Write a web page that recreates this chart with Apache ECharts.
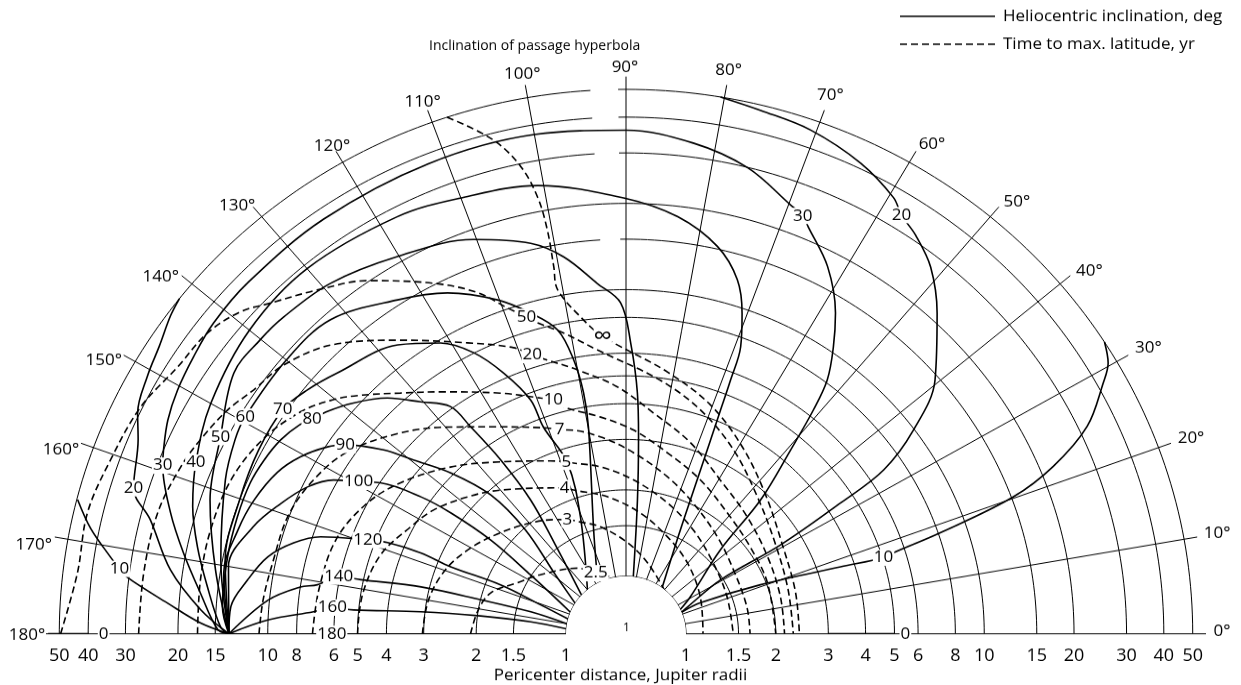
<!DOCTYPE html>
<html><head><meta charset="utf-8">
<script src="https://cdn.jsdelivr.net/npm/echarts@6/dist/echarts.min.js"></script>
<style>
html,body{margin:0;padding:0;background:#fff;overflow:hidden;}
#wrap{width:1241px;height:685px;overflow:hidden;position:relative;background:#fff;}
#chart{width:1241px;height:713px;transform:scaleY(0.9607);transform-origin:0 0;}
</style></head><body>
<div id="wrap"><div id="chart"></div></div>
<script>
const FONT = '"Open Sans", Lato, "Liberation Sans", sans-serif';

// ---- grid values ----
const circleValues = [1, 1.5, 2, 3, 4, 5, 6, 8, 10, 15, 20, 30, 40, 50];
const radiusTickLabels = ['1', '1.5', '2', '3', '4', '5', '6', '8', '10', '15', '20', '30', '40', '50'];
const angleTickValues = [0, 10, 20, 30, 40, 50, 60, 70, 80, 90, 100, 110, 120, 130, 140, 150, 160, 170, 180];
const gappedCircles = [15, 30, 40, 50];

// ---- heliocentric inclination curves: [pericenter distance, passage inclination deg] ----
const helio0a = [[39.8, 180], [54.5, 180]];
const helio0b = [[3, 0], [5, 0]];
const helio10a = [[13.5,180],[16.8,178.5],[21.9,176],[30.3,173.3],[32.5,172.4],[35.3,171.2],[42.8,168.4],[49.7,165.7]];
const helio10b = [[50,32.4],[46.9,30.3],[42,28.7],[32.1,25.1],[22.2,22.2],[15.2,20.2],[8.13,18.5],[5.47,17.5],[5.04,17.1],[3.59,18],[1.91,20.8],[1.18,23.4],[1,22]];
const helio20a = [[13.5,180],[16.9,176.6],[22,171.7],[27.7,166],[33.6,162.9],[37.1,157.5],[40.6,154.8],[43.5,150.7],[45.5,147.3],[48.6,144],[50,142]];
const helio20b = [[50,80.4],[47.9,76.1],[46,70.6],[41.7,64.4],[36.8,59.5],[33.7,57.7],[31.3,55.1],[27.3,51.4],[21.3,47],[14.5,40.5],[9.9,36.4],[6.83,33.5],[4.48,32.4],[2.53,30.9],[1.47,30.7],[1.05,24.1],[1,22]];
const helio30 = [[13.5,180],[14.7,179.4],[17.1,174.3],[20.4,169.2],[24.2,164.5],[28.8,159.3],[30,157.5],[32.1,154.1],[33.6,150.5],[34.8,146.3],[36,141.9],[36.5,136],[36.8,125],[37,112],[37,100],[36,90],[33.6,82.5],[29.9,75.9],[24.8,69.8],[23.6,67.9],[22.1,66.7],[17.7,62.2],[13.2,57.9],[10.4,55.2],[8.17,52.7],[6.34,51.2],[4.42,49.3],[2.81,46],[1.7,42.8],[1.12,30.8],[1,25]];
const helio40 = [[13.5,180],[14.4,179],[16.3,173.3],[18.5,168.1],[20.8,163],[22.9,157.5],[25.5,150],[28,140],[29,130],[27.8,117.8],[26.1,109.7],[24.6,100.7],[20.9,90.3],[18.4,83.2],[15.3,77.2],[12.3,73.2],[9.6,70.8],[7.44,69],[5.64,68.4],[4.38,67.9],[2.65,66.4],[1.6,63.3],[1,53]];
const helio50 = [[13.5,180],[15.6,170.8],[18.6,161.5],[21,153.2],[25,145.3],[25,140],[24.7,136.1],[23.6,129],[21,120.2],[18.5,110.4],[15.8,103.2],[13.5,99],[10.6,94.5],[9.0,90.9],[6.5,89.1],[4.37,87.4],[3.07,86.5],[1.85,85.3],[1,83]];
const helio60 = [[13.5,180],[15.2,169.2],[17.6,158.2],[18.8,152.7],[19.2,149.3],[19.3,140],[18.9,132.1],[15.6,123.3],[13.5,116.7],[11,110.3],[9.2,106],[7.65,102.2],[5.9,100.4],[4.49,99.6],[3.4,99.9],[1.5,106.7],[1.02,117]];
const helio70 = [[13.5,180],[14.7,169.1],[15.0,160.1],[15.4,152.5],[15.5,145.8],[14.6,141.4],[13.4,136.7],[11.6,127.2],[9.75,121.5],[8.03,117.5],[6.28,114.3],[4.74,111.4],[3.73,111],[2.67,108.2],[1.72,110.5],[1,130]];
const helio80 = [[13.5,180],[14.3,176],[14.5,168.6],[14.6,162.6],[14.6,157.3],[14.3,153.5],[13.8,149.7],[13.0,146.3],[12.3,144.6],[11.7,142.4],[10.4,138.6],[8.84,134.2],[7.27,130.4],[6.12,126.6],[4.89,125.8],[3.45,124.7],[2.32,124.4],[1.55,127.3],[1,137.8]];
const helio90 = [[13.5,180],[14.6,171],[14.1,164.4],[13.5,159.5],[12.5,154.3],[11.3,150.5],[9.85,146.9],[8.87,145],[6.83,141.7],[5.43,139.6],[4.09,136.3],[2.9,133.1],[1.97,132.9],[1.3,138.9],[1,148]];
const helio100 = [[13.5,180],[14.2,170],[12.7,163.4],[11.0,158.5],[9.6,154.3],[8.25,151.3],[6.93,149.4],[5.98,147.4],[4.33,145.2],[3.32,144.3],[2.28,144.2],[1.51,147.3],[1,158]];
const helio120 = [[13.5,180],[13.4,175.9],[12.07,171.6],[10.7,167.4],[9.06,164.1],[7.54,161.7],[5.3,159.3],[4.56,158.3],[3.49,157.7],[2.7,158.3],[1.79,157.9],[1.27,160.5],[1,165]];
const helio140 = [[13.5,180],[10.1,174.4],[8.0,171.5],[7.04,170.6],[6.06,168.3],[5.1,168],[3.2,166.6],[2.0,166.3],[1.34,166.5],[1,170]];
const helio160 = [[13.5,180],[10.0,177.7],[7.07,175.8],[6.13,174.7],[5.2,174.8],[3.1,173.6],[1.95,172.7],[1.32,172.5],[1,175]];
const helio180 = [[1,180],[13.5,180]];

// ---- time to max. latitude curves (yr) ----
const time25 = [[2.09,180],[2.0,170.4],[1.88,162.5],[1.6,153.9],[1.42,144.3],[1.2,125.2],[1.08,115.7],[1.01,104.6]];
const time3 = [[3.03,180],[2.96,169.8],[2.78,159.7],[2.51,150.1],[2.23,140.1],[2.0,129.6],[1.83,120.7],[1.75,116.3],[1.65,111.3],[1.52,102.9],[1.31,89.1],[1.14,73.8],[1.0,50.7]];
const time4 = [[5.0,180],[4.93,171.2],[4.64,161.5],[4.09,152.7],[3.76,146.2],[3.26,138],[2.84,130],[2.23,112],[2.14,109.3],[1.91,97.4],[1.67,83.4],[1.46,67.6],[1.32,50.2],[1.2,27.3],[1.14,0]];
const time5 = [[7.08,180],[6.92,171.5],[6.69,161.4],[6.05,152.7],[5.25,145.1],[4.23,135.3],[3.4,125],[2.84,112.8],[2.7,108.4],[2.63,106.4],[2.44,98.3],[2.17,87.3],[1.89,73.1],[1.68,58],[1.52,40.2],[1.45,20.8],[1.44,0]];
const time7 = [[10.7,180],[10.5,174.4],[10.2,167.7],[10.1,160.2],[9.54,153.5],[8.53,146.1],[6.75,137.1],[5.37,129.2],[4.31,120.2],[3.66,110.1],[3.5,107.4],[3.44,105.4],[3.1,97.1],[2.7,87.7],[2.31,75.7],[2.03,63.7],[1.8,47.8],[1.67,31.8],[1.64,13],[1.64,0]];
const time10 = [[17.2,180],[17.3,172.5],[17.3,165.4],[16.9,157.9],[15.6,150.9],[13.7,144.6],[11.9,140.2],[10.4,136.9],[8.5,132],[6.94,125.9],[5.47,116.6],[4.68,109.2],[4.48,106.6],[4.15,104.8],[3.63,96.4],[3.24,88],[2.79,77.6],[2.46,65.1],[2.19,51.1],[2.06,36],[2.02,20.6],[2.0,0]];
const time20 = [[27.1,180],[26.9,172.5],[26.6,165],[25.2,158.7],[23.9,154.6],[22.2,149.7],[20.4,145.7],[19.1,140.7],[16.1,134.2],[11.8,126.4],[8.8,117.6],[7.35,110.7],[6.62,107.9],[6.16,105.4],[5.42,100],[4.58,91.9],[3.76,83.2],[3.16,72],[2.64,59.5],[2.37,45.1],[2.21,29.5],[2.15,14],[2.14,0]];
const time50 = [[49.5,180],[44.7,173.4],[45,166.8],[42.7,160.6],[40.6,154.1],[36.9,148.2],[35.6,143.2],[32.5,139],[28.7,135.9],[24.2,130.8],[20.2,125.1],[15.2,117.8],[12.3,112.7],[10.1,109.3],[9.0,106.8],[8.4,105.3],[7.41,101.3],[6.22,95.5],[4.91,82.6],[4.16,72.3],[3.43,60.7],[2.81,47.3],[2.45,31.8],[2.31,15.7],[2.29,0]];
const timeInf = [[50,108.4],[38,104.5],[29.3,102.2],[22.4,101],[17.1,100.6],[12.7,100.7],[10.5,100.8],[8.0,97.4],[6.88,94.3],[6.41,91.6],[5.28,81.3],[4.43,70.5],[3.62,59.1],[2.97,46],[2.56,30.6],[2.43,14.5],[2.4,0]];

// ---- curve labels: [distance, angle, text] ----
const helioLabels = [
  [32.5,172.4,'10'],[33.6,162.9,'20'],[28.8,159.3,'30'],[22.9,157.5,'40'],[21,153.2,'50'],
  [19.2,149.3,'60'],[15.5,145.8,'70'],[12.3,144.6,'80'],[8.87,145,'90'],[6.93,149.4,'100'],
  [5.3,159.3,'120'],[6.06,168.3,'140'],[6.13,174.7,'160'],[6.1,180,'180'],
  [35.5,180,'0'],[5.44,0,'0'],
  [5.04,17.1,'10'],[33.7,57.7,'20'],[23.6,67.9,'30']
];
const timeLabels = [
  [1.08,115.7,'2.5'],[1.75,116.3,'3'],[2.23,112,'4'],[2.7,108.4,'5'],[3.5,107.4,'7'],
  [4.48,106.6,'10'],[6.62,107.9,'20'],[9.0,106.8,'50'],[6.88,94.3,'\u221e']
];

// ---- styling (label placement around the ray ends, px) ----
const RAY_END = 55.4;
const angleLabelOffset = {0:[16,-2],10:[20,-4],20:[20,-5],30:[20,-7],40:[19,-5],50:[18,-5],60:[16,-7],
  70:[6,-15],80:[2,-15],90:[-1,-9],100:[-3,-11],110:[-5,-8],120:[-4,-5],130:[-16,-1],
  140:[-21,1],150:[-20,5],160:[-20,7],170:[-21,8],180:[-19,1]};

const SOLID = 'Heliocentric inclination, deg';
const DASH = 'Time to max. latitude, yr';
const INK = '#000';
const HIDE = 'rgba(0,0,0,0)';

const series = [];
// grid circles (constant pericenter distance), with the small drafting gap left of 90 deg
circleValues.forEach(v => {
  const parts = gappedCircles.indexOf(v) >= 0 ? [[0, 90.8], [93.6, 180]] : [[0, 180]];
  parts.forEach(([a0, a1]) => {
    const pts = [];
    for (let a = a0; a < a1; a += 1) pts.push([v, a]);
    pts.push([v, a1]);
    series.push({ type: 'line', coordinateSystem: 'polar', silent: true, symbol: 'none',
      data: pts, lineStyle: { color: INK, width: 1 }, z: 1 });
  });
});

const solidCurves = [helio10a, helio10b, helio20a, helio20b, helio30, helio40, helio50, helio60,
  helio70, helio80, helio90, helio100, helio120, helio140, helio160, helio180];
solidCurves.forEach(d => series.push({
  name: SOLID, type: 'line', coordinateSystem: 'polar', symbol: 'none', smooth: 0.35, silent: true,
  data: d, lineStyle: { color: INK, width: 1.6 }, itemStyle: { color: INK }, z: 3
}));
[helio0a, helio0b].forEach(d => series.push({
  name: SOLID, type: 'line', coordinateSystem: 'polar', symbol: 'none', silent: true,
  data: d, lineStyle: { color: INK, width: 2 }, itemStyle: { color: INK }, z: 3
}));
const dashCurves = [time25, time3, time4, time5, time7, time10, time20, time50, timeInf];
dashCurves.forEach(d => series.push({
  name: DASH, type: 'line', coordinateSystem: 'polar', symbol: 'none', smooth: 0.35, silent: true,
  data: d, lineStyle: { color: INK, width: 1.6, type: [7, 4] }, itemStyle: { color: INK }, z: 3
}));

// curve labels
series.push({
  type: 'scatter', coordinateSystem: 'polar', silent: true, symbolSize: 2,
  itemStyle: { color: HIDE, opacity: 1 }, z: 6,
  label: { show: true, position: 'inside', formatter: p => p.name, color: INK,
    fontFamily: FONT, fontSize: 17, lineHeight: 17, backgroundColor: '#fff', padding: [0, 1] },
  data: helioLabels.concat(timeLabels).map(l => {
    const item = { value: [l[0], l[1]], name: l[2] };
    if (l[2] === '\u221e') item.label = { fontSize: 26, lineHeight: 22, padding: [0, 0, 2, 0] };
    return item;
  })
});
// pericenter tick labels on both halves of the baseline
const tickData = [];
circleValues.forEach((v, i) => {
  tickData.push({ value: [v, 0], name: radiusTickLabels[i] });
  tickData.push({ value: [v, 180], name: radiusTickLabels[i] });
});
series.push({
  type: 'scatter', coordinateSystem: 'polar', silent: true, symbolSize: 2,
  itemStyle: { color: HIDE, opacity: 1 }, z: 6,
  label: { show: true, position: 'bottom', distance: 13, formatter: p => p.name,
    color: INK, fontFamily: FONT, fontSize: 18, lineHeight: 18 },
  data: tickData
});
// passage-inclination labels at the ends of the rays
series.push({
  type: 'scatter', coordinateSystem: 'polar', silent: true, symbolSize: 2,
  itemStyle: { color: HIDE, opacity: 1 }, z: 6,
  label: { show: true, position: 'inside', formatter: p => p.name,
    color: INK, fontFamily: FONT, fontSize: 17, lineHeight: 17 },
  data: angleTickValues.map(a => ({ value: [RAY_END, a], name: a + '\u00b0',
    label: { offset: [angleLabelOffset[a][0], angleLabelOffset[a][1] / 0.9607] } }))
});

const chart = echarts.init(document.getElementById('chart'), null, { renderer: 'canvas' });
chart.setOption({
  animation: false,
  backgroundColor: '#fff',
  title: [
    { text: 'Inclination of passage hyperbola', left: 424, top: 36,
      textStyle: { fontFamily: FONT, fontSize: 14, fontWeight: 'normal', color: INK } },
    { text: 'Pericenter distance, Jupiter radii', left: 'center', top: 690,
      textStyle: { fontFamily: FONT, fontSize: 17, fontWeight: 'normal', color: INK } }
  ],
  polar: { center: [626, 659.7], radius: [60, 580] },
  angleAxis: {
    type: 'value', min: 0, max: 180, interval: 10, startAngle: 0, endAngle: 180, clockwise: false,
    axisLine: { show: false }, axisTick: { show: false }, axisLabel: { show: false },
    splitLine: { show: true, lineStyle: { color: INK, width: 1 } }
  },
  radiusAxis: {
    type: 'log', logBase: 10, min: 1, max: RAY_END,
    axisLine: { show: false }, axisTick: { show: false }, axisLabel: { show: false },
    splitLine: { show: false }
  },
  graphic: [
    { type: 'text', left: 623, top: 648, silent: true,
      style: { text: '1', fontFamily: FONT, fontSize: 12, fill: INK } },
    // legend
    { type: 'line', silent: true, shape: { x1: 900, y1: 17, x2: 995, y2: 17 },
      style: { stroke: INK, lineWidth: 1.6 } },
    { type: 'text', silent: true, x: 1003, y: 17,
      style: { text: SOLID, fontFamily: FONT, fontSize: 17, fill: INK, verticalAlign: 'middle' } },
    { type: 'line', silent: true, shape: { x1: 900, y1: 46, x2: 995, y2: 46 },
      style: { stroke: INK, lineWidth: 1.6, lineDash: [7, 4] } },
    { type: 'text', silent: true, x: 1003, y: 46,
      style: { text: DASH, fontFamily: FONT, fontSize: 17, fill: INK, verticalAlign: 'middle' } }
  ],
  series: series
});
</script>
</body></html>
